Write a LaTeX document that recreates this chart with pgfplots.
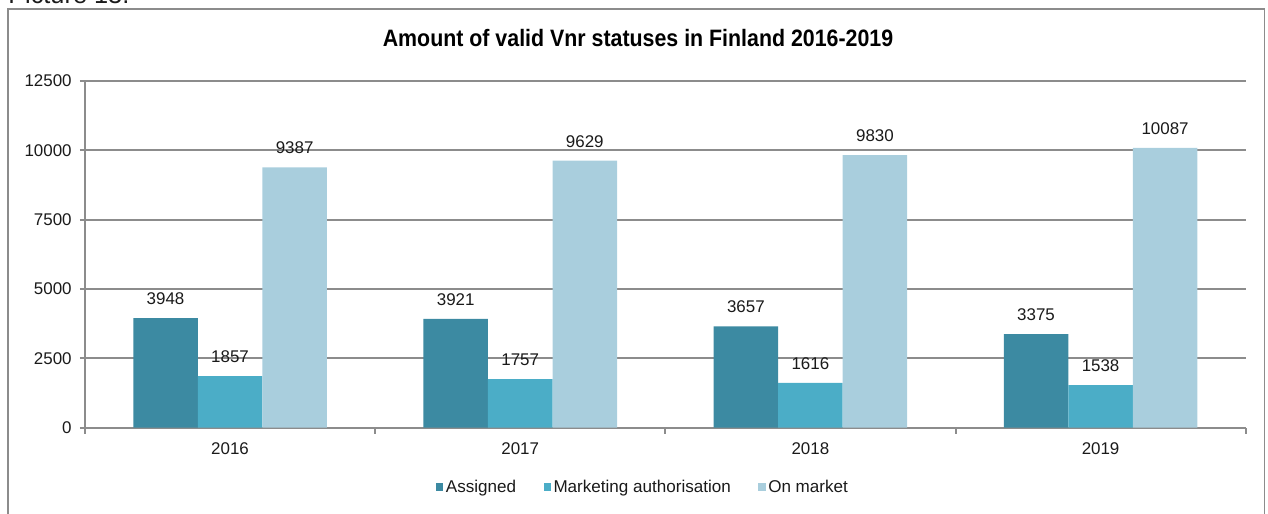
\documentclass[border=0pt]{standalone}
\usepackage{fontspec}
\setmainfont{Liberation Sans}
\newfontfamily\titlefont{Liberation Sans}[FakeStretch=0.90]
\usepackage{pgfplots}
\pgfplotsset{compat=1.18}
\definecolor{cA}{HTML}{3C8AA2}
\definecolor{cB}{HTML}{4BADC7}
\definecolor{cC}{HTML}{A9CEDD}
\definecolor{gridc}{HTML}{8C8C8C}
\definecolor{txt}{HTML}{1A1A1A}
\pgfkeys{/pgf/number format/1000 sep={}}
\begin{document}
\begin{tikzpicture}
\begin{scope}
\clip (0pt,0pt) rectangle (951pt,385.5pt);
\node[anchor=base west, inner sep=0pt, font=\fontsize{19}{22}\selectfont, text=txt] at (6pt,382.5pt) {Picture 13.};
\draw[gridc, line width=1.3pt] (6pt,-2pt) -- (6pt,378.75pt) -- (948.4pt,378.75pt) -- (948.4pt,-2pt);
\end{scope}
\node[anchor=base, inner sep=0pt, font=\titlefont\bfseries\fontsize{17.8}{20}\selectfont, text=black] at (478.5pt,350.5pt) {Amount of valid Vnr statuses in Finland 2016-2019};
\begin{axis}[
  at={(63.75pt,64.7pt)}, anchor=south west,
  scale only axis, width=870.5pt, height=260pt,
  xmin=-0.5, xmax=3.5, ymin=0, ymax=12500,
  ytick={0,2500,5000,7500,10000,12500},
  scaled y ticks=false,
  yticklabel={\pgfmathprintnumber[fixed,precision=0]{\tick}},
  xtick={0,1,2,3}, xticklabels={2016,2017,2018,2019},
  minor xtick={-0.5,0.5,1.5,2.5,3.5},
  axis x line*=bottom, axis y line*=left,
  axis line style={gridc, line width=1.5pt, -},
  tick align=outside,
  major tick length=3.75pt, minor tick length=4.5pt,
  every tick/.style={gridc, line width=1.5pt},
  major x tick style={draw=none},
  ymajorgrids, grid style={gridc, line width=1.5pt},
  tick label style={font=\fontsize{12.7}{15}\selectfont, text=txt},
  /pgf/number format/assume math mode=true,
  yticklabel style={xshift=-2.75pt},
  xticklabel style={yshift=-3.6pt},
  ybar=0pt, bar width=0.2224,
  nodes near coords,
  every node near coord/.append style={anchor=south, inner sep=0pt, yshift=9.75pt, font=\fontsize{12.7}{15}\selectfont, text=txt},
  legend columns=3,
  legend style={at={(0.481,-0.171)}, anchor=center, draw=none, fill=none,
    font=\fontsize{12.8}{15}\selectfont, text=txt,
    /tikz/every even column/.append style={column sep=18.5pt},
    /tikz/every odd column/.append style={column sep=0pt}},
  legend image code/.code={\fill[#1] (0pt,-2.75pt) rectangle (5.5pt,2.75pt);},
]
\addplot[fill=cA, draw=none, bar shift=-0.2224] coordinates {(0,3948) (1,3921) (2,3657) (3,3375)};
\addplot[fill=cB, draw=none, bar shift=0] coordinates {(0,1857) (1,1757) (2,1616) (3,1538)};
\addplot[fill=cC, draw=none, bar shift=0.2224] coordinates {(0,9387) (1,9629) (2,9830) (3,10087)};
\legend{Assigned, Marketing authorisation, On market}
\end{axis}
\pgfresetboundingbox
\useasboundingbox (0pt,0pt) rectangle (951pt,385.5pt);
\end{tikzpicture}
\end{document}
